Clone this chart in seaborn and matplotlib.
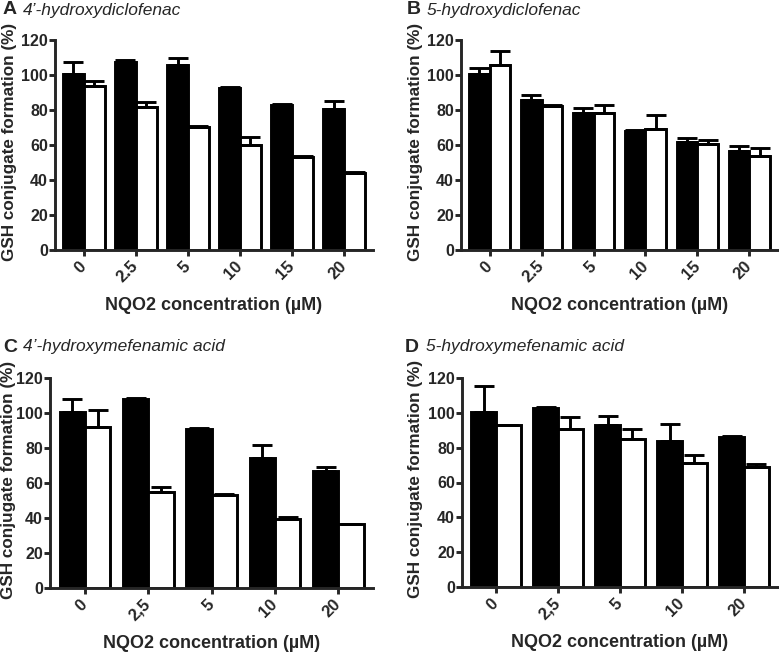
import matplotlib.pyplot as plt
import numpy as np
import pandas as pd
import seaborn as sns

# NQO2 concentrations (tick labels as printed in each panel)
conc_a = ['0', '2.5', '5', '10', '15', '20']
conc_b = ['0', '2.5', '5', '10', '15', '20']
conc_c = ['0', '2,5', '5', '10', '20']
conc_d = ['0', '2,5', '5', '10', '20']

# A: 4'-hydroxydiclofenac
a_black = [100.5, 107.5, 105.5, 92.5, 83.0, 80.5]
a_black_err = [7.0, 0.8, 4.5, 0.8, 0.6, 4.5]
a_white = [93.5, 82.0, 70.5, 60.0, 53.0, 44.0]
a_white_err = [3.3, 2.5, 0.5, 4.5, 1.0, 0.3]

# B: 5-hydroxydiclofenac
b_black = [100.5, 86.0, 78.5, 68.0, 61.5, 56.5]
b_black_err = [3.5, 2.5, 2.5, 0.4, 2.5, 3.0]
b_white = [106.0, 82.5, 78.5, 69.0, 60.5, 53.5]
b_white_err = [8.0, 0.5, 4.5, 8.0, 2.5, 5.0]

# C: 4'-hydroxymefenamic acid
c_black = [100.5, 108.0, 91.0, 74.5, 67.0]
c_black_err = [7.5, 0.8, 0.5, 7.0, 2.3]
c_white = [92.0, 55.0, 53.0, 39.5, 36.5]
c_white_err = [10.0, 3.0, 0.8, 0.8, 0.3]

# D: 5-hydroxymefenamic acid
d_black = [100.5, 102.5, 93.0, 84.0, 86.0]
d_black_err = [15.0, 0.8, 5.0, 9.5, 0.6]
d_white = [93.0, 91.0, 85.0, 71.0, 69.0]
d_white_err = [0.3, 6.5, 5.5, 5.0, 1.5]

sns.set_style("ticks")
plt.rcParams['font.family'] = ['Liberation Sans', 'DejaVu Sans']
plt.rcParams['font.weight'] = 'bold'

LW = 2.1


def panel(ax, conc, black, black_err, white, white_err, ylab_x):
    n = len(conc)
    df = pd.DataFrame({'conc': conc * 2,
                       'group': ['filled'] * n + ['open'] * n,
                       'value': black + white})
    sns.barplot(data=df, x='conc', y='value', hue='group', order=conc,
                palette={'filled': 'black', 'open': 'white'},
                edgecolor='black', linewidth=LW, width=0.8,
                errorbar=None, legend=False, ax=ax)

    # one-sided (upper) error bars on top of each bar
    for cont, err in zip(ax.containers, [black_err, white_err]):
        xs = [b.get_x() + b.get_width() / 2 for b in cont]
        ys = [b.get_height() for b in cont]
        ax.errorbar(xs, ys, yerr=[np.zeros(len(err)), err], fmt='none',
                    ecolor='black', elinewidth=LW, capsize=7, capthick=LW,
                    zorder=3, clip_on=False)

    ax.set_ylim(0, 120)
    ax.set_yticks(range(0, 121, 20))
    ax.set_xlim(-0.55, n - 0.45)
    sns.despine(ax=ax)
    for s in ['left', 'bottom']:
        ax.spines[s].set_linewidth(LW)
    ax.tick_params(direction='out', length=4, width=LW, labelsize=11.5, pad=1)
    ax.tick_params(axis='x', labelsize=12, pad=6)
    plt.setp(ax.get_xticklabels(), rotation=45, ha='right', va='center',
             rotation_mode='anchor', fontweight='bold')
    plt.setp(ax.get_yticklabels(), fontweight='bold')
    ax.set_xlabel('NQO2 concentration (\u00b5M)', fontsize=13, fontweight='bold', labelpad=8)
    ax.set_ylabel('GSH conjugate formation (%)', fontsize=12.3, fontweight='bold',
                  va='center')
    ax.yaxis.set_label_coords(ylab_x, 0.515)


fig = plt.figure(figsize=(7.79, 6.52), dpi=100)
W, H = 779, 652


def add_axes(left, right, top, bottom):
    return fig.add_axes([left / W, 1 - bottom / H, (right - left) / W, (bottom - top) / H])


ax_a = add_axes(55, 373, 40, 250)
ax_b = add_axes(461, 778, 40, 250)
ax_c = add_axes(50, 373, 378, 588)
ax_d = add_axes(462, 778, 378, 587)

panel(ax_a, conc_a, a_black, a_black_err, a_white, a_white_err, -0.143)
panel(ax_b, conc_b, b_black, b_black_err, b_white, b_white_err, -0.145)
panel(ax_c, conc_c, c_black, c_black_err, c_white, c_white_err, -0.13)
panel(ax_d, conc_d, d_black, d_black_err, d_white, d_white_err, -0.148)

titles = [('A', '4\u2019-hydroxydiclofenac', 3, 23, 10),
          ('B', '5-hydroxydiclofenac', 407, 427, 10),
          ('C', '4\u2019-hydroxymefenamic acid', 3, 23, 347),
          ('D', '5-hydroxymefenamic acid', 405, 426, 347)]
for letter, name, lx, nx, ty in titles:
    fig.text(lx / W, 1 - ty / H, letter, fontsize=14, fontweight='bold', va='center')
    fig.text(nx / W, 1 - ty / H, name, fontsize=12.5, fontweight='normal',
             style='italic', va='center')

plt.savefig('out.png', dpi=100)
